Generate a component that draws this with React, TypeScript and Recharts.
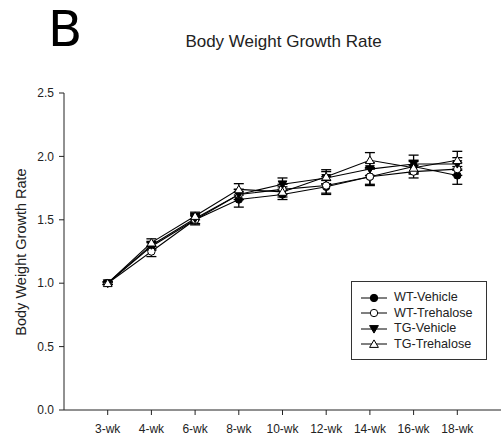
import React from 'react';
import { LineChart, Line, XAxis, YAxis, ErrorBar, Legend } from 'recharts';

const weeks = ['3-wk', '4-wk', '6-wk', '8-wk', '10-wk', '12-wk', '14-wk', '16-wk', '18-wk'];
const wtVehicle = [1.0, 1.29, 1.5, 1.66, 1.7, 1.76, 1.84, 1.92, 1.85];
const wtVehicleErr = [0.01, 0.03, 0.03, 0.06, 0.04, 0.05, 0.06, 0.05, 0.07];
const wtTrehalose = [1.0, 1.25, 1.5, 1.7, 1.74, 1.77, 1.84, 1.88, 1.9];
const wtTrehaloseErr = [0.01, 0.04, 0.04, 0.04, 0.04, 0.07, 0.07, 0.05, 0.05];
const tgVehicle = [1.0, 1.3, 1.51, 1.7, 1.78, 1.83, 1.9, 1.94, 1.94];
const tgVehicleErr = [0.01, 0.03, 0.04, 0.04, 0.05, 0.05, 0.05, 0.07, 0.05];
const tgTrehalose = [1.0, 1.32, 1.53, 1.74, 1.72, 1.84, 1.97, 1.91, 1.97];
const tgTrehaloseErr = [0.01, 0.03, 0.03, 0.045, 0.04, 0.055, 0.06, 0.05, 0.07];
const yTicks = [0, 0.5, 1.0, 1.5, 2.0, 2.5];

const data = weeks.map((w, i) => ({
  x: i,
  wtV: wtVehicle[i], wtVE: wtVehicleErr[i],
  wtT: wtTrehalose[i], wtTE: wtTrehaloseErr[i],
  tgV: tgVehicle[i], tgVE: tgVehicleErr[i],
  tgT: tgTrehalose[i], tgTE: tgTrehaloseErr[i],
}));

type Kind = 'filledCircle' | 'openCircle' | 'filledTri' | 'openTri';

const Marker = ({ kind, cx, cy }: { kind: Kind; cx: number; cy: number }) => {
  if (kind === 'filledCircle') return <circle cx={cx} cy={cy} r={3.7} fill="#000" stroke="#000" strokeWidth={1} />;
  if (kind === 'openCircle') return <circle cx={cx} cy={cy} r={3.7} fill="#fff" stroke="#000" strokeWidth={1} />;
  if (kind === 'filledTri')
    return <polygon points={`${cx - 4.4},${cy - 3.4} ${cx + 4.4},${cy - 3.4} ${cx},${cy + 4.1}`} fill="#000" stroke="#000" strokeWidth={1} />;
  return <polygon points={`${cx - 4.4},${cy + 3.4} ${cx + 4.4},${cy + 3.4} ${cx},${cy - 4.1}`} fill="#fff" stroke="#000" strokeWidth={1} />;
};

const makeDot = (kind: Kind) => (p: any) => <Marker key={`${kind}-${p.index}`} kind={kind} cx={p.cx} cy={p.cy} />;

const series: { key: string; err: string; name: string; kind: Kind }[] = [
  { key: 'wtV', err: 'wtVE', name: 'WT-Vehicle', kind: 'filledCircle' },
  { key: 'wtT', err: 'wtTE', name: 'WT-Trehalose', kind: 'openCircle' },
  { key: 'tgV', err: 'tgVE', name: 'TG-Vehicle', kind: 'filledTri' },
  { key: 'tgT', err: 'tgTE', name: 'TG-Trehalose', kind: 'openTri' },
];

const font = 'Liberation Sans, Arial, sans-serif';

const LegendContent = () => (
  <div style={{ border: '1px solid #333', width: 136, height: 79, boxSizing: 'border-box', padding: '8px 0 0 8px', background: '#fff' }}>
    {series.map((s) => (
      <div key={s.key} style={{ display: 'flex', alignItems: 'center', height: 15.5 }}>
        <svg width={28} height={12}>
          <line x1={1} y1={6} x2={27} y2={6} stroke="#000" strokeWidth={1} />
          <Marker kind={s.kind} cx={14} cy={6} />
        </svg>
        <span style={{ fontFamily: font, fontSize: 12.6, color: '#222', marginLeft: 6, lineHeight: '15px' }}>{s.name}</span>
      </div>
    ))}
  </div>
);

export default function App() {
  return (
    <div style={{ position: 'absolute', left: 0, top: 0, width: 501, height: 439, background: '#fff' }}>
      <div style={{ position: 'absolute', left: 48, top: 0, fontFamily: 'DejaVu Sans, sans-serif', fontSize: 50, color: '#000', lineHeight: 'normal' }}>B</div>
      <div style={{ position: 'absolute', left: 0, width: 567, top: 31.5, textAlign: 'center', fontFamily: font, fontSize: 17, color: '#222', lineHeight: '20px' }}>
        Body Weight Growth Rate
      </div>
      <div
        style={{
          position: 'absolute', left: 21, top: 252, transform: 'translate(-50%, -50%) rotate(-90deg)',
          whiteSpace: 'nowrap', fontFamily: font, fontSize: 14.5, color: '#222', lineHeight: '17px',
        }}
      >
        Body Weight Growth Rate
      </div>
      <LineChart width={501} height={439} data={data} margin={{ top: 93, right: 0, bottom: 0, left: 0 }}>
        <XAxis
          dataKey="x" type="number" domain={[-1, 9]} ticks={[0, 1, 2, 3, 4, 5, 6, 7, 8]}
          tickFormatter={(v: number) => weeks[v] ?? ''} height={29} tickSize={5} tickMargin={9}
          stroke="#222" tick={{ fill: '#222', fontSize: 12, fontFamily: font }} allowDataOverflow interval={0}
        />
        <YAxis
          type="number" domain={[0, 2.5]} ticks={yTicks} tickFormatter={(v: number) => v.toFixed(1)}
          width={64} tickSize={5} tickMargin={5} stroke="#222"
          tick={{ fill: '#222', fontSize: 12, fontFamily: font }}
        />
        <Legend
          layout="vertical" align="center" verticalAlign="middle"
          wrapperStyle={{ position: 'absolute', left: 351, top: 281, width: 136, height: 79 }}
          content={() => <LegendContent />}
        />
        {series.map((s) => (
          <Line
            key={s.key} dataKey={s.key} name={s.name} stroke="#000" strokeWidth={1.1}
            dot={makeDot(s.kind)} activeDot={false} isAnimationActive={false} type="linear"
          >
            <ErrorBar dataKey={s.err} direction="y" width={5} stroke="#000" strokeWidth={1.3} />
          </Line>
        ))}
      </LineChart>
    </div>
  );
}
